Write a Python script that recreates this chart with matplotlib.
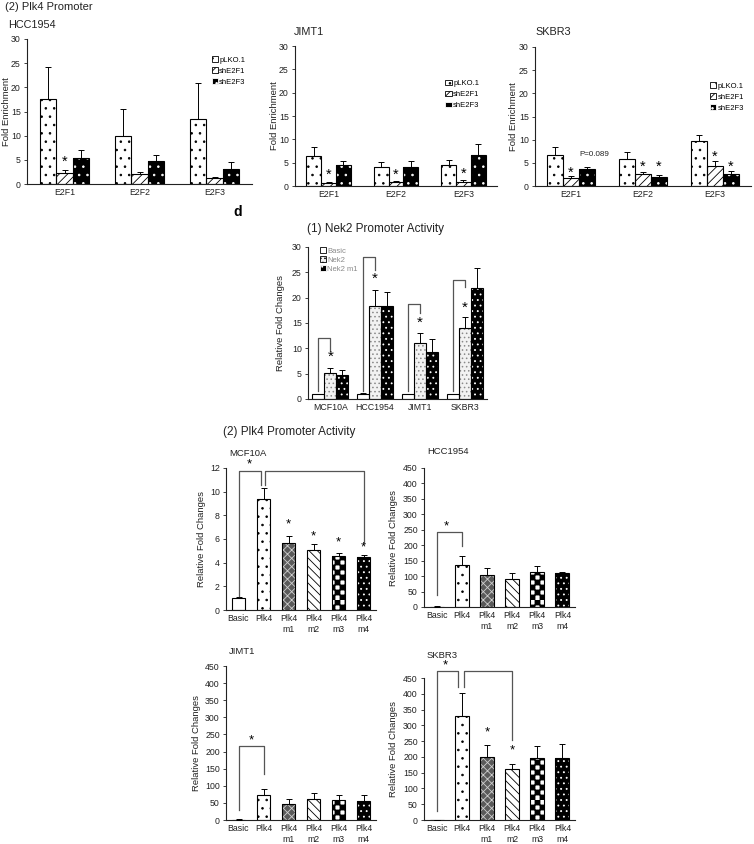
import numpy as np
import warnings
import matplotlib
matplotlib.use('Agg')
import matplotlib.pyplot as plt
import matplotlib.hatch as mhatch
from matplotlib.path import Path
from matplotlib.patches import Patch

warnings.filterwarnings('ignore')
plt.rcParams['font.family'] = ['Liberation Sans', 'DejaVu Sans']
plt.rcParams['hatch.linewidth'] = 0.6


# ---- custom checkerboard hatch ('c') ----
class CheckerHatch(mhatch.HatchPatternBase):
    def __init__(self, hatch, density):
        k = hatch.count('c')
        self.n = 20 * k if k else 0
        self.cells = [(i, j) for i in range(self.n) for j in range(self.n)
                      if (i + j) % 2 == 0]
        self.num_vertices = len(self.cells) * 5

    def set_vertices_and_codes(self, vertices, codes):
        s = 1.0 / self.n
        for idx, (i, j) in enumerate(self.cells):
            x0, y0 = i * s, j * s
            vertices[idx * 5:idx * 5 + 5] = [(x0, y0), (x0 + s, y0), (x0 + s, y0 + s),
                                             (x0, y0 + s), (x0, y0)]
            codes[idx * 5:idx * 5 + 5] = [Path.MOVETO, Path.LINETO, Path.LINETO,
                                          Path.LINETO, Path.CLOSEPOLY]


mhatch._hatch_types.append(CheckerHatch)
mhatch._validate_hatch_pattern = lambda h: None

# ================= DATA =================
# Top row: ChIP fold enrichment at Plk4 promoter
top_groups = ['E2F1', 'E2F2', 'E2F3']
top_series = ['pLKO.1', 'shE2F1', 'shE2F3']
hcc_mean = [[17.6, 10.0, 13.5], [2.3, 2.0, 1.2], [5.4, 4.8, 3.2]]
hcc_err = [[6.6, 5.6, 7.5], [0.7, 0.4, 0.2], [1.7, 1.3, 1.4]]
jimt_mean = [[6.4, 4.1, 4.5], [0.7, 0.8, 0.9], [4.4, 4.0, 6.7]]
jimt_err = [[2.0, 1.0, 1.1], [0.1, 0.2, 0.3], [1.0, 1.4, 2.3]]
skbr_mean = [[6.7, 5.9, 9.8], [1.8, 2.6, 4.3], [3.7, 1.9, 2.6]]
skbr_err = [[1.8, 1.5, 1.1], [0.3, 0.4, 1.0], [0.5, 0.5, 0.6]]
# stars: (series index, group index, y)
hcc_stars = [(1, 0, 4.6)]
jimt_stars = [(1, 0, 2.4), (1, 1, 2.5), (1, 2, 2.6)]
skbr_stars = [(1, 0, 2.8), (1, 1, 4.2), (2, 1, 4.2), (1, 2, 6.3), (2, 2, 4.2)]

# Nek2 promoter activity
nek_groups = ['MCF10A', 'HCC1954', 'JIMT1', 'SKBR3']
nek_series = ['Basic', 'Nek2', 'Nek2 m1']
nek_mean = [[1.0, 1.0, 1.0, 1.0], [5.2, 18.4, 11.1, 14.0], [4.7, 18.4, 9.3, 21.9]]
nek_err = [[0.05, 0.15, 0.05, 0.05], [1.0, 3.2, 2.0, 2.1], [1.0, 2.8, 2.5, 3.9]]
# brackets: (group, top, right leg bottom); star y
nek_brackets = [(0, 12.1, 9.5), (1, 28.0, 25.5), (2, 18.7, 17.0), (3, 23.5, 22.1)]
nek_stars = [8.3, 23.7, 15.0, 18.0]

# Plk4 promoter activity
plk_cats = ['Basic', 'Plk4', 'Plk4\nm1', 'Plk4\nm2', 'Plk4\nm3', 'Plk4\nm4']
mcf_mean = [1.0, 9.35, 5.7, 5.05, 4.6, 4.5]
mcf_err = [0.06, 1.0, 0.56, 0.5, 0.25, 0.15]
hccp_mean = [1.5, 136, 104, 90, 112, 109]
hccp_err = [0.5, 30, 23, 21, 21, 4]
jimtp_mean = [1.0, 73, 47, 60, 58, 56]
jimtp_err = [0.5, 19, 13, 18, 14, 16]
skbrp_mean = [1.0, 330, 199, 163, 198, 195]
skbrp_err = [0.5, 71, 40, 16, 36, 47]

# ================= STYLES =================
# (facecolor, hatchcolor, hatch)
S_PLAIN = ('white', 'black', None)
S_DOTS = ('white', 'black', '..')
S_DIAG = ('white', 'black', '////')
S_BDOTS = ('black', 'white', '..')
S_NEK = ('#f2f2f2', '#8a8a8a', '....')
S_NEKM = ('black', 'white', '...')
S_M1 = ('#5a5a5a', '#cfcfcf', 'xxxx')
S_M2 = ('white', 'black', '\\\\\\\\')
S_M3 = ('white', 'black', 'c')
S_M4 = ('black', 'white', '...')

top_styles = [S_DOTS, S_DIAG, S_BDOTS]
nek_styles = [S_PLAIN, S_NEK, S_NEKM]
plk_styles = [S_PLAIN, S_DOTS, S_M1, S_M2, S_M3, S_M4]

AX = '#222222'
W, H = 754, 844
fig = plt.figure(figsize=(W / 100, H / 100), dpi=100)


def add_ax(x0, x1, ytop, ybot):
    return fig.add_axes([x0 / W, 1 - ybot / H, (x1 - x0) / W, (ybot - ytop) / H])


def ftext(x, y, s, **kw):
    fig.text(x / W, 1 - y / H, s, **kw)


def pbar(ax, x, h, w, style):
    fc, hc, hatch = style
    ax.bar(x, h, w, facecolor=fc, edgecolor=hc, hatch=hatch, linewidth=0, zorder=2)
    ax.bar(x, h, w, fill=False, edgecolor='black', linewidth=0.8, zorder=3)


def ebar(ax, x, m, e):
    ax.errorbar(x, m, yerr=[np.zeros(len(e)), e], fmt='none', ecolor='black',
                elinewidth=0.7, capsize=2.3, capthick=0.7, zorder=4)


def style_ax(ax, ymax, ystep, ylabel, xt, xl, xlab_px, fs=6.3):
    ax.set_ylim(0, ymax)
    ax.set_yticks(np.arange(0, ymax + ystep / 2, ystep))
    for s in ['top', 'right']:
        ax.spines[s].set_visible(False)
    for s in ['left', 'bottom']:
        ax.spines[s].set_linewidth(0.8)
        ax.spines[s].set_color(AX)
    ax.tick_params(axis='y', length=2.5, width=0.6, labelsize=fs, direction='out',
                   pad=2, colors=AX)
    ax.tick_params(axis='x', length=0, labelsize=fs, pad=3, colors=AX)
    ax.set_xticks(xt)
    ax.set_xticklabels(xl)
    ax.set_ylabel(ylabel, fontsize=6.8, color=AX)
    # place the y label (its right edge) at a given pixel x (layout only)
    bb = ax.get_position()
    ax_left_px = bb.x0 * W
    ax_w_px = bb.width * W
    ax.yaxis.set_label_coords((xlab_px - ax_left_px) / ax_w_px, 0.5)


def bracket(ax, xl, yl, ytop, xr, yr, color='#555555'):
    ax.plot([xl, xl, xr, xr], [yl, ytop, ytop, yr], color=color, lw=0.9,
            zorder=5, clip_on=False)


def star(ax, x, y, fs):
    ax.text(x, y, '*', ha='center', va='center', fontsize=fs, color='black',
            zorder=6, clip_on=False)


# ================= TOP ROW =================
def top_panel(x0, x1, ytop, ybot, mean, err, stars, leg_anchor, ylab_px):
    ax = add_ax(x0, x1, ytop, ybot)
    w = 0.22
    xs = np.arange(len(top_groups))
    for i, st in enumerate(top_styles):
        pbar(ax, xs + (i - 1) * w, mean[i], w, st)
        ebar(ax, xs + (i - 1) * w, mean[i], err[i])
    for si, gi, y in stars:
        star(ax, xs[gi] + (si - 1) * w, y, 10.5)
    ax.set_xlim(-0.5, len(top_groups) - 0.5)
    style_ax(ax, 30, 5, 'Fold Enrichment', xs, top_groups, ylab_px)
    handles = [Patch(facecolor=fc, edgecolor=(hc if fc == 'black' else 'black'),
                     hatch=ht, linewidth=0.6) for fc, hc, ht in top_styles]
    ax.legend(handles, top_series, loc='upper left', bbox_to_anchor=leg_anchor,
              frameon=False, fontsize=5.5, handlelength=0.8, handleheight=0.8,
              handletextpad=0.2, labelspacing=0.45, borderaxespad=0, borderpad=0)
    return ax


ax_t1 = top_panel(27, 252, 39, 184, hcc_mean, hcc_err, hcc_stars, (0.82, 0.88), 11)
ax_t2 = top_panel(295, 497, 46, 186, jimt_mean, jimt_err, jimt_stars, (0.745, 0.76), 279)
ax_t3 = top_panel(535, 751, 47, 186, skbr_mean, skbr_err, skbr_stars, (0.81, 0.745), 518)
ax_t3.text(0.22 + 0.1, 6.9, 'P=0.089', ha='center', va='center',
           fontsize=5.8, color=AX)

ftext(5, 7, '(2) Plk4 Promoter', fontsize=8, va='center', ha='left', color=AX)
ftext(8, 25, 'HCC1954', fontsize=7.8, va='center', ha='left', color=AX)
ftext(294, 32, 'JIMT1', fontsize=7.8, va='center', ha='left', color=AX)
ftext(535, 32, 'SKBR3', fontsize=7.8, va='center', ha='left', color=AX)

# ================= NEK2 =================
ftext(233, 212, 'd', fontsize=10, fontweight='bold', va='center', ha='left')
ftext(307, 229, '(1) Nek2 Promoter Activity', fontsize=8.5, va='center', ha='left', color=AX)
ax_n = add_ax(308, 487, 247, 399)
wn = 0.27
xn = np.arange(len(nek_groups))
for i, st in enumerate(nek_styles):
    pbar(ax_n, xn + (i - 1) * wn, nek_mean[i], wn, st)
    ebar(ax_n, xn + (i - 1) * wn, nek_mean[i], nek_err[i])
for g, top, rb in nek_brackets:
    bracket(ax_n, xn[g] - wn, nek_mean[0][g] + 0.5, top, xn[g], rb)
for g, y in enumerate(nek_stars):
    star(ax_n, xn[g], y, 11)
ax_n.set_xlim(-0.5, len(nek_groups) - 0.5)
style_ax(ax_n, 30, 5, 'Relative Fold Changes', xn, nek_groups, 285)
nh = [Patch(facecolor=fc, edgecolor=(hc if fc == 'black' else 'black'), hatch=ht,
            linewidth=0.6) for fc, hc, ht in nek_styles]
lg = ax_n.legend(nh, nek_series, loc='upper left', bbox_to_anchor=(0.065, 1.0),
                 frameon=False, fontsize=5.5, handlelength=0.8, handleheight=0.8,
                 handletextpad=0.2, labelspacing=0.2, borderaxespad=0, borderpad=0)
for t in lg.get_texts():
    t.set_color('#8a8a8a')

# ================= PLK4 =================
ftext(223, 432, '(2) Plk4 Promoter Activity', fontsize=8.5, va='center', ha='left', color=AX)
wp = 0.55
xp = np.arange(len(plk_cats))


def plk_panel(x0, x1, ytop, ybot, ymax, ystep, mean, err, title, ty, ylab_px):
    ax = add_ax(x0, x1, ytop, ybot)
    for i, st in enumerate(plk_styles):
        pbar(ax, xp[i], mean[i], wp, st)
    ebar(ax, xp, mean, err)
    ax.set_xlim(-0.5, len(plk_cats) - 0.5)
    style_ax(ax, ymax, ystep, 'Relative Fold Changes', xp, plk_cats, ylab_px)
    ftext(x0 + 3, ty, title, fontsize=6.8, va='center', ha='left', color=AX)
    return ax


ax_p1 = plk_panel(226, 376, 468, 610, 12, 2, mcf_mean, mcf_err, 'MCF10A', 453, 206)
bracket(ax_p1, xp[0], 1.15, 11.75, xp[1] - 0.12, 10.6)
bracket(ax_p1, xp[1] + 0.05, 10.6, 11.75, xp[5], 5.65)
star(ax_p1, 0.45, 12.3, 9.5)
for i, y in zip(range(2, 6), [7.2, 6.25, 5.75, 5.3]):
    star(ax_p1, xp[i], y, 9.5)

ax_p2 = plk_panel(424, 575, 468, 607, 450, 50, hccp_mean, hccp_err, 'HCC1954', 451, 398)
bracket(ax_p2, xp[0], 40, 243, xp[1], 197)
star(ax_p2, 0.4, 262, 9.5)

ax_p3 = plk_panel(226, 376, 666, 820, 450, 50, jimtp_mean, jimtp_err, 'JIMT1', 651, 201)
bracket(ax_p3, xp[0], 30, 216, xp[1], 134)
star(ax_p3, 0.5, 232, 9.5)

ax_p4 = plk_panel(424, 575, 678, 820, 450, 50, skbrp_mean, skbrp_err, 'SKBR3', 655, 398)
bracket(ax_p4, xp[0], 30, 472, xp[1] - 0.15, 421)
bracket(ax_p4, xp[1] + 0.1, 421, 472, xp[3], 253)
star(ax_p4, 0.35, 490, 9.5)
star(ax_p4, xp[2], 279, 9.5)
star(ax_p4, xp[3], 219, 9.5)

fig.savefig('out.png', dpi=100)
